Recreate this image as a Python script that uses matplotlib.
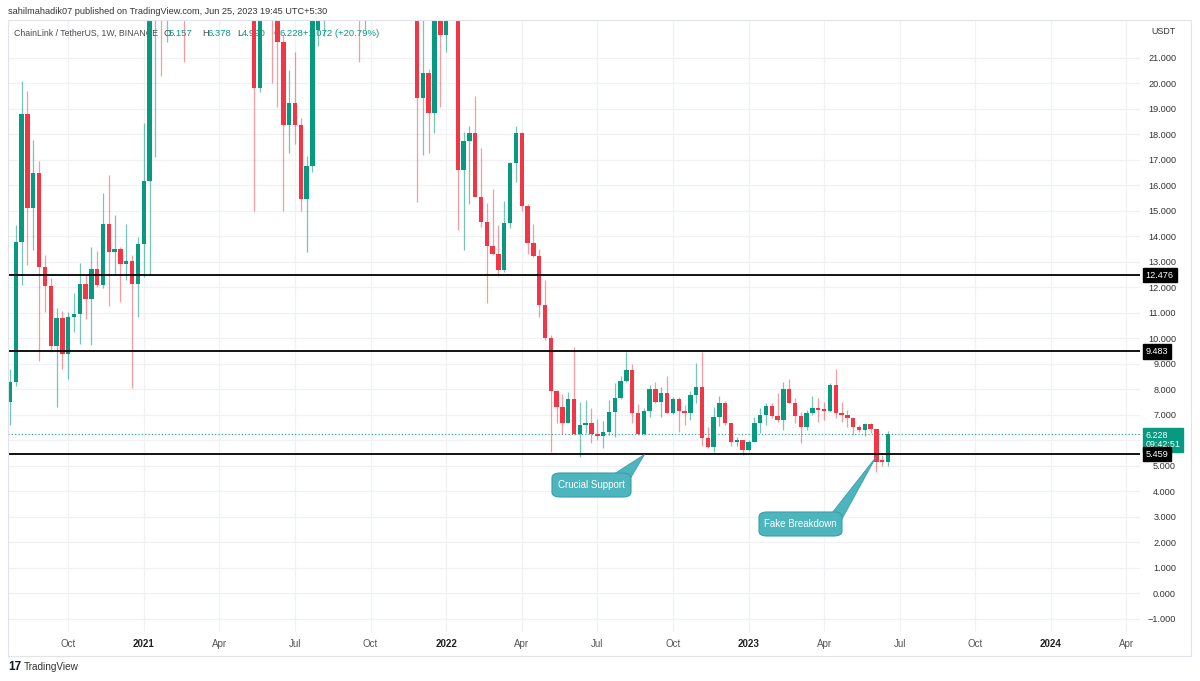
import matplotlib
matplotlib.use("Agg")
import matplotlib.pyplot as plt
import matplotlib.dates as mdates
from matplotlib.patches import FancyBboxPatch, Polygon, Rectangle
import numpy as np
import pandas as pd

# LINK/USDT weekly candles, first candle = week of 27 Jul 2020
opens = [
    7.51, 8.29, 13.78, 18.79, 15.09, 16.47, 12.78, 12.03, 9.71, 10.79,
    9.38, 10.84, 10.95, 12.14, 11.55, 12.70, 12.09, 14.49, 13.37, 13.50,
    12.90, 13.04, 12.13, 13.68, 16.18, 22.8, 23.6, 22.9, 27.3, 33.0,
    29.5, 26.5, 30.8, 31.0, 28.2, 27.0, 32.0, 37.0, 39.5, 33.0,
    44.0, 48.5, 40.0, 19.82, 28.5, 30.5, 26.0, 21.6, 18.36, 19.21,
    18.36, 15.45, 16.75, 22.08, 24.8, 27.0, 25.0, 25.5, 33.5, 29.0,
    28.5, 24.0, 26.0, 26.5, 25.5, 30.0, 31.5, 34.0, 31.0, 25.0,
    25.5, 19.44, 20.39, 18.82, 23.5, 21.90, 23.4, 25.5, 16.60, 17.75,
    18.03, 15.55, 14.57, 13.62, 13.29, 12.68, 14.53, 16.86, 18.06, 15.20,
    13.72, 13.22, 11.30, 9.99, 7.94, 7.31, 6.69, 7.62, 6.24, 6.60,
    6.69, 6.23, 6.16, 6.33, 7.09, 7.64, 8.33, 8.77, 7.05, 6.23,
    7.15, 8.01, 7.51, 7.86, 7.07, 7.62, 7.14, 7.06, 7.77, 8.08,
    6.08, 5.75, 6.90, 7.45, 6.66, 5.94, 6.02, 5.62, 5.94, 6.69,
    6.99, 7.35, 6.95, 6.79, 8.01, 7.47, 6.95, 6.53, 7.05, 7.25,
    7.18, 7.16, 8.17, 7.08, 6.99, 6.86, 6.53, 6.40, 6.64, 6.43,
    5.20, 5.157]
highs = [
    8.78, 14.44, 20.10, 19.69, 17.77, 16.95, 13.26, 12.35, 11.17, 11.07,
    11.02, 11.78, 12.96, 12.48, 13.56, 13.43, 15.71, 16.39, 14.83, 13.56,
    14.49, 13.26, 13.98, 18.45, 23.3, 25.0, 24.9, 27.9, 36.9, 35.8,
    31.5, 32.0, 33.5, 32.3, 30.0, 33.6, 39.0, 44.3, 41.0, 45.0,
    52.9, 50.5, 42.0, 30.5, 35.5, 31.5, 28.5, 21.9, 20.52, 21.24,
    18.63, 17.14, 23.0, 25.5, 28.0, 29.5, 27.5, 35.0, 36.0, 32.0,
    29.5, 26.5, 28.5, 27.5, 31.5, 33.0, 35.0, 36.0, 32.0, 27.5,
    26.0, 23.0, 20.55, 23.8, 24.5, 24.0, 28.0, 27.0, 18.10, 18.32,
    19.51, 17.45, 15.29, 15.84, 14.43, 15.38, 16.90, 18.32, 18.10, 15.25,
    14.48, 13.50, 12.28, 10.13, 7.97, 7.80, 7.90, 9.67, 7.51, 7.58,
    7.27, 6.82, 6.75, 7.58, 8.23, 8.53, 9.48, 9.00, 7.42, 7.28,
    8.17, 8.29, 8.08, 8.53, 7.71, 7.71, 7.37, 7.92, 9.02, 9.47,
    6.53, 7.31, 7.74, 7.55, 6.66, 6.14, 6.02, 6.00, 6.92, 7.25,
    7.48, 7.47, 7.84, 8.29, 8.40, 7.64, 7.12, 7.18, 7.73, 7.64,
    7.51, 8.23, 8.78, 7.51, 7.18, 6.86, 6.60, 6.66, 6.69, 6.46,
    5.42, 6.378]
lows = [
    6.6, 8.13, 12.09, 12.87, 13.46, 9.12, 11.02, 9.47, 7.31, 8.79,
    8.39, 10.25, 9.76, 10.74, 9.73, 12.02, 11.98, 11.27, 12.51, 11.43,
    12.30, 8.04, 10.82, 12.39, 12.48, 17.12, 20.28, 21.63, 25.5, 27.0,
    20.82, 24.5, 27.5, 26.0, 24.0, 26.5, 29.8, 34.5, 27.5, 32.0,
    42.0, 32.0, 15.0, 19.67, 25.5, 19.99, 19.08, 15.0, 17.25, 17.62,
    15.0, 13.39, 16.5, 21.45, 21.86, 24.5, 23.5, 25.0, 25.0, 27.0,
    20.82, 22.08, 24.5, 24.5, 25.0, 27.0, 29.5, 30.5, 24.0, 23.5,
    15.33, 17.2, 17.25, 18.03, 19.06, 21.24, 22.7, 14.24, 13.48, 15.25,
    15.53, 14.37, 11.39, 13.26, 12.44, 12.61, 14.31, 16.14, 15.00, 13.30,
    13.20, 10.85, 9.93, 5.53, 6.66, 6.23, 6.66, 6.20, 5.33, 6.29,
    5.88, 6.00, 5.71, 6.20, 6.11, 7.60, 8.27, 6.68, 6.22, 6.20,
    6.90, 7.45, 6.91, 7.07, 7.03, 6.31, 6.58, 6.79, 7.45, 5.79,
    5.70, 5.53, 6.55, 6.61, 5.77, 5.77, 5.42, 5.59, 5.94, 6.27,
    6.60, 6.86, 6.73, 6.40, 7.47, 6.69, 5.90, 6.40, 6.99, 6.73,
    6.79, 7.12, 6.86, 6.73, 6.53, 6.20, 6.33, 6.16, 6.27, 4.77,
    4.99, 4.99]
closes = [
    8.29, 13.78, 18.79, 15.09, 16.47, 12.78, 12.03, 9.71, 10.79, 9.38,
    10.84, 10.95, 12.14, 11.55, 12.70, 12.09, 14.49, 13.37, 13.50, 12.90,
    13.04, 12.13, 13.68, 16.18, 22.8, 23.6, 22.9, 27.3, 33.0, 29.5,
    26.5, 30.8, 31.0, 28.2, 27.0, 32.0, 37.0, 39.5, 33.0, 44.0,
    48.5, 40.0, 19.82, 28.5, 30.5, 26.0, 21.6, 18.36, 19.21, 18.36,
    15.45, 16.75, 22.6, 24.8, 27.0, 25.0, 25.5, 33.5, 29.0, 28.5,
    24.0, 26.0, 26.5, 25.5, 30.0, 31.5, 34.0, 31.0, 25.0, 25.5,
    19.44, 20.39, 18.82, 23.5, 21.90, 23.4, 25.5, 16.60, 17.75, 18.03,
    15.55, 14.57, 13.62, 13.29, 12.68, 14.53, 16.86, 18.06, 15.20, 13.72,
    13.22, 11.30, 9.99, 7.94, 7.31, 6.69, 7.62, 6.24, 6.60, 6.69,
    6.23, 6.16, 6.33, 7.09, 7.64, 8.33, 8.77, 7.05, 6.23, 7.15,
    8.01, 7.51, 7.86, 7.07, 7.62, 7.14, 7.06, 7.77, 8.08, 6.08,
    5.75, 6.90, 7.45, 6.66, 5.92, 6.02, 5.62, 5.94, 6.69, 6.99,
    7.35, 6.95, 6.79, 8.01, 7.47, 6.95, 6.53, 7.05, 7.25, 7.18,
    7.16, 8.17, 7.08, 6.99, 6.86, 6.53, 6.40, 6.64, 6.43, 5.16,
    5.157, 6.228]

levels = [12.476, 9.483, 5.459]
last_price = 6.228
countdown = "09:42:51"
price_ticks = list(range(-1, 22))
tick_months = ["2020-10", "2021-01", "2021-04", "2021-07", "2021-10", "2022-01",
               "2022-04", "2022-07", "2022-10", "2023-01", "2023-04", "2023-07",
               "2023-10", "2024-01", "2024-04"]
tick_names = ["Oct", "2021", "Apr", "Jul", "Oct", "2022", "Apr", "Jul", "Oct",
              "2023", "Apr", "Jul", "Oct", "2024", "Apr"]

UP = "#089981"
DOWN = "#f23645"
W, H = 1200, 681
plt.rcParams["font.family"] = ["Liberation Sans", "DejaVu Sans"]


def fx(x):
    return x / W


def fy(y):
    return 1 - y / H


fig = plt.figure(figsize=(12, 6.81), dpi=100)
fig.patch.set_facecolor("white")
ax = fig.add_axes([fx(8), fy(632), fx(1140 - 8), (632 - 20) / H])

dates = pd.date_range("2020-07-27", periods=len(opens), freq="7D")
xs = mdates.date2num(dates)
o = np.array(opens)
c = np.array(closes)
up = c >= o
px_day = 5.815 / 7

# wicks then bodies
wick_cols = [(8/255, 153/255, 129/255, 0.55) if u else (242/255, 54/255, 69/255, 0.5) for u in up]
ax.vlines(xs, lows, highs, colors=wick_cols, lw=0.9, zorder=2)
body_h = np.maximum(np.abs(c - o), 0.05)
ax.bar(xs, body_h, bottom=np.minimum(o, c), width=4.4 / px_day,
       color=[UP if u else DOWN for u in up], linewidth=0, zorder=3)

for lv in levels:
    ax.axhline(lv, color="black", lw=1.3, zorder=4)
ax.axhline(last_price, color=UP, lw=0.8, ls=(0, (1, 2)), zorder=1.8)

ax.set_xlim(xs[0] - 2 / px_day, xs[0] + 1130 / px_day)
ax.set_ylim(-1.52, 22.48)

# price scale; the 6.000 label sits under the last-price tag
ax.yaxis.tick_right()
ax.set_yticks(price_ticks)
ax.set_yticklabels(["" if v == 6 else f"{v:.3f}".replace("-", "\u2212") for v in price_ticks])
ax.tick_params(axis="y", length=0, pad=26, labelsize=6.6, labelcolor="#333333")
for t in ax.get_yticklabels():
    t.set_horizontalalignment("right")

tick_dates = []
for m in tick_months:
    d = pd.Timestamp(m + "-01")
    tick_dates.append(d + pd.Timedelta(days=(7 - d.weekday()) % 7))
ax.set_xticks(mdates.date2num(tick_dates))
ax.set_xticklabels(tick_names)
ax.tick_params(axis="x", length=0, pad=5, labelsize=7, labelcolor="#555555")
for t, name in zip(ax.get_xticklabels(), tick_names):
    if name.isdigit():
        t.set_fontweight("bold")
        t.set_color("#222222")

ax.grid(True, color="#eff1f5", lw=0.9, zorder=0)
ax.set_axisbelow(True)
for s in ax.spines.values():
    s.set_visible(False)

# outer frame
fig.add_artist(Rectangle((fx(8), fy(656)), fx(1191 - 8), (656 - 20) / H,
                         transform=fig.transFigure, fill=False, ec="#e0e3eb", lw=0.8))

# header and legend
fig.text(fx(8), fy(12), "sahilmahadik07 published on TradingView.com, Jun 25, 2023 19:45 UTC+5:30",
         fontsize=6.6, color="#333333", va="center")
legend_parts = [(14, "ChainLink / TetherUS, 1W, BINANCE", "#4a4a4a", 6.3),
                (163, "O", "#4a4a4a", 6.8), (169, "5.157", UP, 6.8),
                (202, "H", "#4a4a4a", 6.8), (208, "6.378", UP, 6.8),
                (237, "L", "#4a4a4a", 6.8), (242, "4.990", UP, 6.8),
                (273, "C", "#4a4a4a", 6.8), (279, "6.228", UP, 6.8),
                (303, "+1.072 (+20.79%)", UP, 6.8)]
for x, s, col, fs in legend_parts:
    ax.text(fx(x), fy(33), s, transform=fig.transFigure, fontsize=fs,
            color=col, va="center", zorder=1)
fig.text(fx(1151), fy(31), "USDT", fontsize=6.4, color="#333333", va="center")

# price scale tags
for lv in levels:
    ax.annotate(f"{lv:.3f}", xy=(1, lv), xycoords=("axes fraction", "data"),
                xytext=(4.2, 0), textcoords="offset points", ha="left", va="center",
                fontsize=6.6, color="white", annotation_clip=False, zorder=10,
                bbox=dict(boxstyle="square,pad=0.3", fc="black", ec="black"))
ax.annotate(f"{last_price:.3f}\n{countdown}", xy=(1, last_price), xycoords=("axes fraction", "data"),
            xytext=(4.2, -4.0), textcoords="offset points", ha="left", va="center",
            fontsize=6.4, color="white", annotation_clip=False, zorder=9, linespacing=1.1,
            bbox=dict(boxstyle="square,pad=0.28", fc=UP, ec=UP))


# callouts
def callout(x0, y0, x1, y1, text, wedge):
    fig.add_artist(Polygon([(fx(a), fy(b)) for a, b in wedge], closed=True,
                           transform=fig.transFigure, fc="#4db5be", ec="#3c9ea7", lw=0.6, zorder=5))
    fig.add_artist(FancyBboxPatch((fx(x0), fy(y1)), fx(x1 - x0), (y1 - y0) / H,
                                  boxstyle="round,pad=0,rounding_size=0.007",
                                  transform=fig.transFigure, fc="#4db5be", ec="#3c9ea7",
                                  lw=0.8, zorder=6))
    fig.text(fx((x0 + x1) / 2), fy((y0 + y1) / 2), text, ha="center", va="center",
             fontsize=7, color="white", zorder=7)


callout(552, 473, 631, 497, "Crucial Support", [(614, 474), (630, 479), (644.5, 454.5)])
callout(759, 512, 842, 536, "Fake Breakdown", [(832, 513), (842, 519), (876, 457)])

# footer logo
fig.text(fx(8), fy(667), "17", fontsize=8.5, fontweight="bold", color="#131722", va="center")
fig.text(fx(24), fy(667), "TradingView", fontsize=7.2, color="#333333", va="center")

fig.savefig("out.png", dpi=100, facecolor="white")
